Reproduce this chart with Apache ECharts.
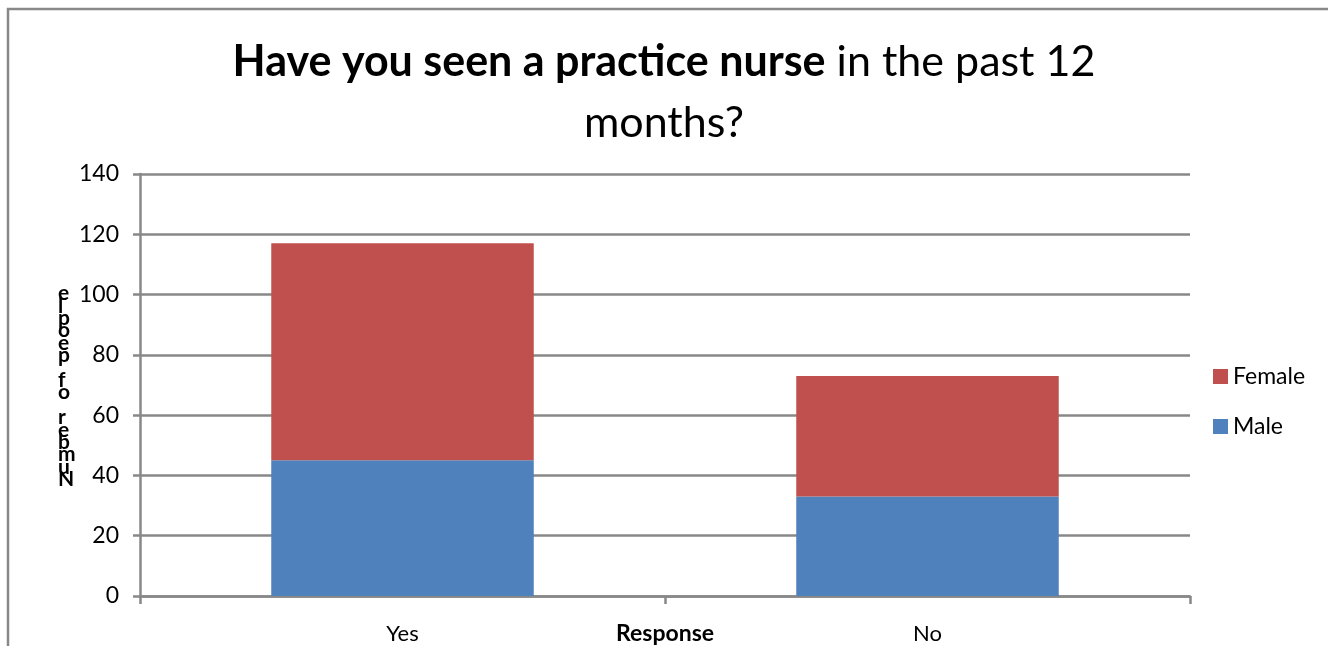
<!DOCTYPE html>
<html>
<head>
<meta charset="utf-8">
<script src="https://cdn.jsdelivr.net/npm/echarts@6/dist/echarts.min.js"></script>
<style>
  html, body { margin: 0; padding: 0; background: #fff; }
  #chart { width: 1328px; height: 646px; }
</style>
</head>
<body>
<div id="chart"></div>
<script>
const categories = ['Yes', 'No']
const maleValues = [45, 33]
const femaleValues = [72, 40]
const yTicks = [0, 20, 40, 60, 80, 100, 120, 140]

// y axis title is drawn stacked letter by letter, bottom to top
const yTitle = 'Number of people'
const yTitleStacked = yTitle.split('').reverse().join('\n')

let chartDom = document.getElementById('chart')
let myChart = echarts.init(chartDom)

let option = {
  textStyle: { fontFamily: 'Lato' },
  title: {
    text: '{b|Have you seen a practice nurse}{n| in the past 12}\n{n|months?}',
    left: 'center',
    top: 27,
    textStyle: {
      rich: {
        b: { fontFamily: 'Lato', fontWeight: 'bold', fontSize: 43, color: '#000', lineHeight: 61 },
        n: { fontFamily: 'Lato', fontWeight: 'normal', fontSize: 43, color: '#000', lineHeight: 61 }
      }
    }
  },
  legend: {
    orient: 'vertical',
    left: 1208,
    top: 360,
    itemGap: 27,
    itemWidth: 15,
    itemHeight: 15,
    icon: 'rect',
    data: ['Female', 'Male'],
    textStyle: { fontFamily: 'Lato', fontSize: 23, color: '#000' }
  },
  grid: {
    left: 140,
    right: 138,
    top: 174,
    bottom: 50,
    outerBoundsMode: 'none'
  },
  graphic: [
    {
      type: 'rect',
      shape: { x: 8, y: 9, width: 1340, height: 660 },
      style: { fill: 'none', stroke: '#888', lineWidth: 2.5 },
      silent: true
    },
    {
      type: 'text',
      left: 58,
      top: 283,
      style: {
        text: yTitleStacked,
        font: 'bold 21px Lato',
        lineHeight: 12.4,
        fill: '#000'
      }
    }
  ],
  xAxis: {
    type: 'category',
    data: categories,
    name: 'Response',
    nameLocation: 'middle',
    nameGap: 26,
    nameMoveOverlap: false,
    nameTextStyle: { fontFamily: 'Lato', fontWeight: 'bold', fontSize: 23, color: '#000', verticalAlign: 'top' },
    axisLine: { lineStyle: { color: '#888', width: 2.5 } },
    axisTick: { show: true, length: 8, lineStyle: { color: '#888', width: 2.5 } },
    axisLabel: { fontFamily: 'Lato', fontSize: 22, color: '#000', margin: 27 }
  },
  yAxis: {
    type: 'value',
    min: yTicks[0],
    max: yTicks[yTicks.length - 1],
    interval: 20,
    axisLine: { show: true, lineStyle: { color: '#888', width: 2.5 } },
    axisTick: { show: true, length: 7, lineStyle: { color: '#888', width: 2.5 } },
    axisLabel: { fontFamily: 'Lato', fontSize: 23, color: '#000', margin: 21 },
    splitLine: { lineStyle: { color: '#888', width: 2.5 } }
  },
  series: [
    {
      name: 'Male',
      type: 'bar',
      stack: 'total',
      barWidth: '50%',
      itemStyle: { color: '#4f81bd' },
      data: maleValues
    },
    {
      name: 'Female',
      type: 'bar',
      stack: 'total',
      barWidth: '50%',
      itemStyle: { color: '#c0504d' },
      data: femaleValues
    }
  ]
}

option && myChart.setOption(option)
</script>
</body>
</html>
